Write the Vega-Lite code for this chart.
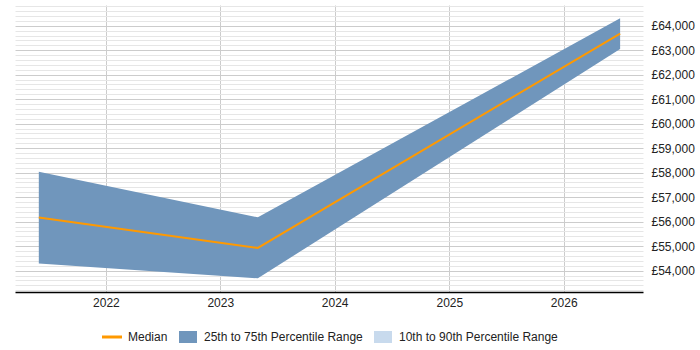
{
  "$schema": "https://vega.github.io/schema/vega-lite/v6.json",
  "width": 628,
  "height": 287,
  "autosize": "none",
  "padding": {"left": 15, "top": 5, "right": 57, "bottom": 58},
  "data": {"values": [
    {"date": "2021-06-01", "low": 54290, "median": 56170, "high": 58040},
    {"date": "2023-05-01", "low": 53690, "median": 54930, "high": 56180},
    {"date": "2026-06-30", "low": 63050, "median": 63680, "high": 64300}
  ]},
  "layer": [
    {
      "mark": {"type": "area", "opacity": 1},
      "encoding": {
        "x": {
          "field": "date", "type": "temporal",
          "scale": {"type": "utc", "domain": [{"year": 2021, "month": 3, "date": 17, "utc": true}, {"year": 2026, "month": 9, "date": 11, "utc": true}]},
          "axis": {"title": null, "format": "%Y", "tickCount": {"interval": "year", "step": 1}, "grid": true, "gridColor": "#cccccc", "ticks": false, "domainColor": "#000000", "domainWidth": 1.5, "labelPadding": 5, "labelFontSize": 12, "labelColor": "#222222", "labelFont": "Liberation Sans"}
        },
        "y": {
          "field": "low", "type": "quantitative",
          "scale": {"domain": [53130, 64845], "nice": false, "zero": false},
          "axis": {"orient": "right", "title": null, "labels": false, "ticks": false, "domain": false, "grid": true, "gridColor": "#e6e6e6",
            "values": [53200,53400,53600,53800,54200,54400,54600,54800,55200,55400,55600,55800,56200,56400,56600,56800,57200,57400,57600,57800,58200,58400,58600,58800,59200,59400,59600,59800,60200,60400,60600,60800,61200,61400,61600,61800,62200,62400,62600,62800,63200,63400,63600,63800,64200,64400,64600,64800]}
        },
        "y2": {"field": "high"},
        "color": {
          "datum": "25th to 75th Percentile Range",
          "scale": {"domain": ["Median", "25th to 75th Percentile Range", "10th to 90th Percentile Range"], "range": ["#ff9900", "#7096bc", "#c8daed"]},
          "legend": {
            "orient": "none", "legendX": 87, "legendY": 322, "direction": "horizontal", "title": null,
            "labelFontSize": 12, "labelFont": "Liberation Sans", "labelColor": "#222222",
            "symbolSize": 400, "columnPadding": 10, "labelOffset": 6,
            "encode": {"symbols": {"update": {
              "shape": {"signal": "datum.value === 'Median' ? 'M-1,-0.15H1V0.15H-1Z' : 'M-0.9,-0.6H0.9V0.6H-0.9Z'"},
              "fill": {"signal": "datum.value === 'Median' ? '#ff9900' : (datum.value === '25th to 75th Percentile Range' ? '#88a6c6' : '#c8daed')"},
              "stroke": {"value": "transparent"},
              "strokeWidth": {"value": 0},
              "opacity": {"value": 1},
              "fillOpacity": {"value": 1}
            }}}
          }
        }
      }
    },
    {
      "mark": {"type": "line", "strokeWidth": 2},
      "encoding": {
        "x": {"field": "date", "type": "temporal"},
        "y": {
          "field": "median", "type": "quantitative",
          "axis": {"orient": "right", "title": null, "ticks": false, "domain": false, "grid": true, "gridColor": "#cccccc",
            "values": [54000,55000,56000,57000,58000,59000,60000,61000,62000,63000,64000],
            "labelExpr": "'£' + format(datum.value, ',')", "labelPadding": 8, "labelFontSize": 12, "labelColor": "#222222", "labelFont": "Liberation Sans"}
        },
        "color": {
          "datum": "Median",
          "legend": {
            "orient": "none", "legendX": 87, "legendY": 322, "direction": "horizontal", "title": null,
            "labelFontSize": 12, "labelFont": "Liberation Sans", "labelColor": "#222222",
            "symbolSize": 400, "columnPadding": 10, "labelOffset": 6,
            "encode": {"symbols": {"update": {
              "shape": {"signal": "datum.value === 'Median' ? 'M-1,-0.15H1V0.15H-1Z' : 'M-0.9,-0.6H0.9V0.6H-0.9Z'"},
              "fill": {"signal": "datum.value === 'Median' ? '#ff9900' : (datum.value === '25th to 75th Percentile Range' ? '#88a6c6' : '#c8daed')"},
              "stroke": {"value": "transparent"},
              "strokeWidth": {"value": 0},
              "opacity": {"value": 1},
              "fillOpacity": {"value": 1}
            }}}
          }
        }
      }
    }
  ],
  "resolve": {"axis": {"y": "independent"}},
  "config": {"view": {"stroke": null}, "font": "Liberation Sans"}
}
